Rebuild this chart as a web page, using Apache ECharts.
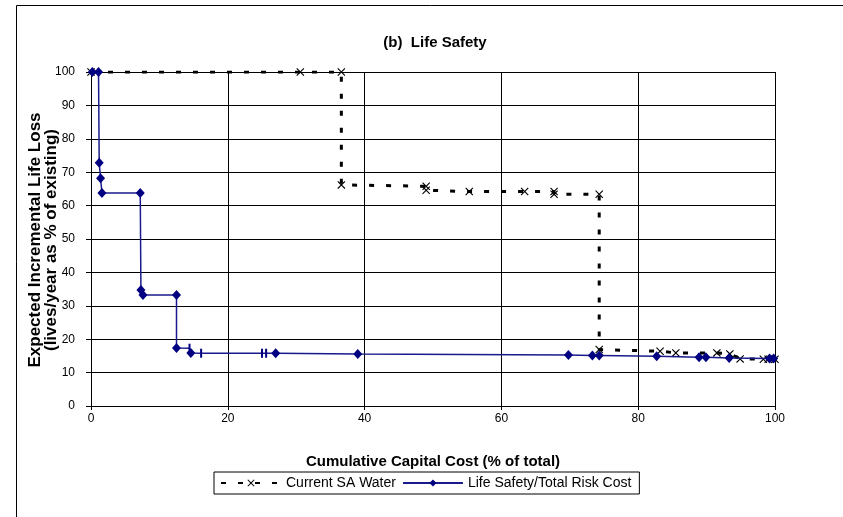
<!DOCTYPE html>
<html>
<head>
<meta charset="utf-8">
<script src="https://cdn.jsdelivr.net/npm/echarts@6/dist/echarts.min.js"></script>
<style>
  html, body { margin: 0; padding: 0; background: #fff; }
  #chart { width: 843px; height: 517px; }
</style>
</head>
<body>
<div id="chart"></div>
<script>
// Current SA Water (black dashed, x markers)
const saWaterX = [0, 30.6, 36.6, 36.6, 49.0, 49.0, 55.3, 63.4, 67.7, 67.7, 74.3, 74.3, 83.2, 85.5, 91.5, 93.4, 94.9, 98.3, 99.0, 100];
const saWaterY = [100, 100, 100, 66.2, 65.8, 64.6, 64.2, 64.2, 64.2, 63.4, 63.4, 16.9, 16.4, 15.9, 15.9, 15.6, 14.1, 14.0, 14.0, 14.0];

// Life Safety/Total Risk Cost (navy, diamonds)
const lifeX = [0.2, 1.1, 1.2, 1.4, 1.6, 7.2, 7.3, 7.6, 12.5, 12.5, 14.6, 27.0, 39.0, 69.8, 73.3, 74.3, 82.7, 88.9, 89.9, 93.3, 99.2, 99.8];
const lifeY = [100, 100, 72.8, 68.2, 63.8, 63.8, 34.7, 33.2, 33.2, 17.4, 15.9, 15.8, 15.6, 15.3, 15.1, 15.1, 14.9, 14.6, 14.6, 14.4, 14.2, 14.2];
// points on the same line drawn with a small vertical tick instead of a diamond
const lifeTickX = [14.4, 16.1, 25.0, 25.6];
const lifeTickY = [17.3, 15.8, 15.8, 15.8];

const xTicks = [0, 20, 40, 60, 80, 100];
const yTicks = [0, 10, 20, 30, 40, 50, 60, 70, 80, 90, 100];

const crossPath = 'path://M0,1L1,0L5,4L9,0L10,1L6,5L10,9L9,10L5,6L1,10L0,9L4,5Z';

const lifePoints = lifeX.map((x, i) => ({ value: [x, lifeY[i]] }))
  .concat(lifeTickX.map((x, i) => ({ value: [x, lifeTickY[i]], symbol: 'rect', symbolSize: [2, 9] })))
  .sort((a, b) => a.value[0] - b.value[0]);

const chart = echarts.init(document.getElementById('chart'));

const option = {
  animation: false,
  backgroundColor: '#fff',
  textStyle: { fontFamily: 'Liberation Sans, Arial, sans-serif' },
  title: {
    text: '(b)  Life Safety',
    left: 430,
    top: 30,
    textAlign: 'center',
    textStyle: { fontSize: 15, fontWeight: 'bold', color: '#000', fontFamily: 'Liberation Sans, Arial, sans-serif' }
  },
  legend: {
    left: 214,
    top: 472,
    itemWidth: 60,
    itemHeight: 9,
    itemGap: 6,
    padding: [4, 8, 4, 6],
    borderColor: '#000',
    borderWidth: 1,
    textStyle: { fontSize: 14, color: '#000', fontFamily: 'Liberation Sans, Arial, sans-serif' },
    data: ['Current SA Water', 'Life Safety/Total Risk Cost']
  },
  grid: { left: 91, right: 68, top: 72, bottom: 111 },
  xAxis: {
    type: 'value',
    min: xTicks[0],
    max: xTicks[xTicks.length - 1],
    interval: 20,
    name: 'Cumulative Capital Cost (% of total)',
    nameLocation: 'middle',
    nameGap: 48,
    nameTextStyle: { fontSize: 15, fontWeight: 'bold', color: '#000', fontFamily: 'Liberation Sans, Arial, sans-serif' },
    axisLine: { lineStyle: { color: '#000', width: 1 } },
    axisTick: { show: true, length: 4, lineStyle: { color: '#000' } },
    axisLabel: { fontSize: 12, color: '#000', margin: 7 },
    splitLine: { show: true, lineStyle: { color: '#000', width: 1 } }
  },
  yAxis: {
    type: 'value',
    min: yTicks[0],
    max: yTicks[yTicks.length - 1],
    interval: 10,
    axisLine: { show: true, lineStyle: { color: '#000', width: 1 } },
    axisTick: { show: true, length: 5, lineStyle: { color: '#000' } },
    axisLabel: { fontSize: 12, color: '#000', margin: 16 },
    splitLine: { show: true, lineStyle: { color: '#000', width: 1 } }
  },
  graphic: [
    {
      type: 'text',
      x: 43,
      y: 240,
      rotation: Math.PI / 2,
      z: 100,
      style: {
        text: 'Expected Incremental Life Loss\n(lives/year as % of existing)',
        font: 'bold 17px "Liberation Sans", Arial, sans-serif',
        lineHeight: 16,
        fill: '#000',
        textAlign: 'center',
        textVerticalAlign: 'middle'
      }
    },
    {
      type: 'polyline',
      shape: { points: [[16.5, 520], [16.5, 5.5], [850, 5.5]] },
      style: { stroke: '#000', lineWidth: 1, fill: null }
    }
  ],
  series: [
    {
      name: 'Current SA Water',
      type: 'line',
      data: saWaterX.map((x, i) => [x, saWaterY[i]]),
      symbol: crossPath,
      symbolSize: 8,
      itemStyle: { color: '#000' },
      lineStyle: { color: '#000', width: 3, type: [5, 12] },
      z: 3
    },
    {
      name: 'Life Safety/Total Risk Cost',
      type: 'line',
      data: lifePoints,
      symbol: 'diamond',
      symbolSize: [9, 10],
      itemStyle: { color: '#000080' },
      lineStyle: { color: '#1a1a8c', width: 1.5 },
      z: 4
    }
  ]
};

chart.setOption(option);
</script>
</body>
</html>
